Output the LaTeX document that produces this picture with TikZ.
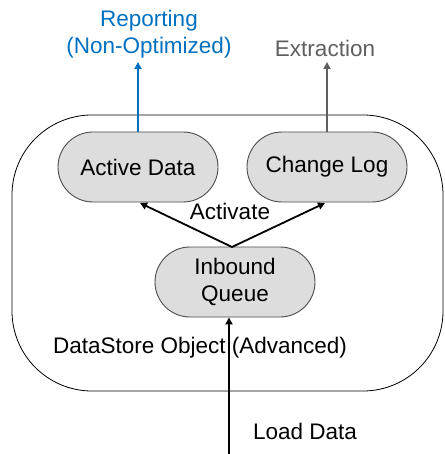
\documentclass[tikz,border=0pt]{standalone}
\usepackage{fontspec}
\setmainfont{Liberation Sans}
\usetikzlibrary{arrows.meta}
\definecolor{boxfill}{HTML}{DDDDDD}
\definecolor{repblue}{HTML}{0070C0}
\definecolor{extgray}{HTML}{5F5F5F}
\begin{document}
\begin{tikzpicture}[x=1pt,y=-1pt,
  every node/.style={font=\fontsize{22.5}{27}\selectfont},
  pill/.style={draw=black!70, line width=0.9pt, fill=boxfill, rounded corners=35pt,
    minimum width=160pt, minimum height=70pt, inner sep=0pt, align=center},
  lbl/.style={inner sep=0pt, align=center},
  arr/.style={line width=1.8pt, -{Triangle[width=7pt,length=7pt]}}]
\useasboundingbox (0,0) rectangle (444,454);
\draw[line width=0.8pt, rounded corners=80pt] (12,115) rectangle (443,391);
\node[pill] (ad) at (138,167) {Active Data};
\node[pill] (cl) at (327,167) {Change Log};
\node[pill] (iq) at (235,282) {Inbound\\Queue};
\node[lbl, text=repblue] (rep) at (149,34) {Reporting\\(Non-Optimized)};
\node[lbl, text=extgray] (ext) at (325,48) {Extraction};
\node[lbl] (act) at (230,211) {Activate};
\node[lbl] (dso) at (200,348) {DataStore Object (Advanced)};
\node[lbl] (ld) at (305,431) {Load Data};
\coordinate (rept) at (138,62);
\coordinate (extt) at (327,62);
\coordinate (apex) at (232,247);
\coordinate (ldb) at (229,454);
\draw[arr, draw=repblue, fill=repblue] (ad.north) -- (rept);
\draw[arr, draw=extgray, fill=extgray] (cl.north -| extt) -- (extt);
\draw[arr] (apex) -- (140,203);
\draw[arr] (apex) -- (325,203);
\draw[arr] (ldb) -- (ldb |- iq.south);
\end{tikzpicture}
\end{document}
